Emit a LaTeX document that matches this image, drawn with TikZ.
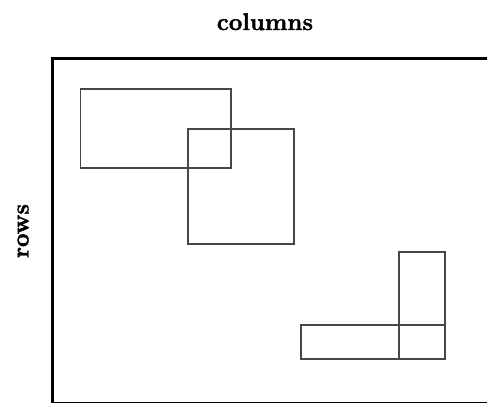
\documentclass[tikz,border=0pt]{standalone}
\usepackage{fontspec}
\newfontfamily\labfont[FakeBold=1.5]{Latin Modern Roman}
\begin{document}
\begin{tikzpicture}[x=1pt,y=-1pt,
  frame/.style={draw=black,line width=3pt},
  box/.style={draw=black!72,line width=1.4pt},
  lab/.style={font=\labfont\fontsize{24}{28}\selectfont\bfseries,text=black,inner sep=0pt}]
\useasboundingbox (0,0) rectangle (487,403);
\clip (0,0) rectangle (487,403);
\draw[frame] (52,58.5) rectangle (495,403.5);
\draw[box] (80.5,89) rectangle (231,168);
\draw[box] (188,129) rectangle (294,244);
\draw[box] (399,252) rectangle (445,359);
\draw[box] (301,325) rectangle (445,359);
\node[lab,anchor=base] (cols) at (265,30) {columns};
\node[lab,rotate=90,anchor=base] (rows) at (28.5,231) {rows};
\end{tikzpicture}
\end{document}
